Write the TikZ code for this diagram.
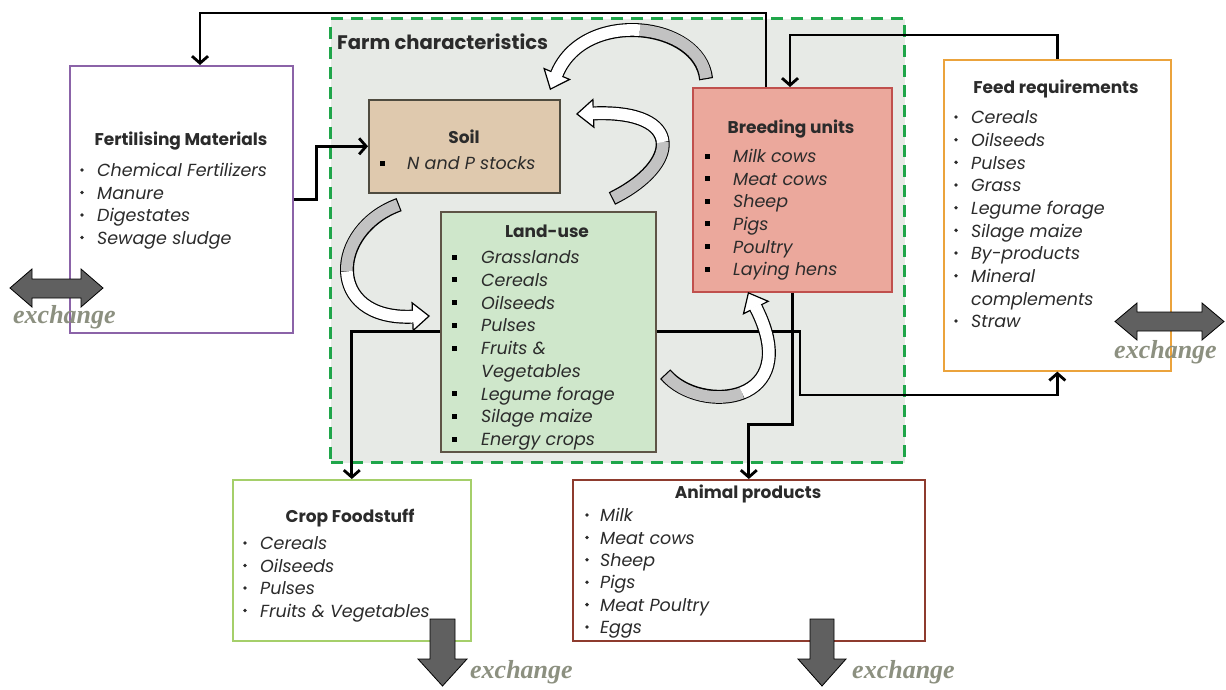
\documentclass[tikz,border=0pt]{standalone}
\usepackage{fontspec}
\setmainfont{Poppins}
\newfontfamily\exfont{Liberation Serif}
\usetikzlibrary{arrows.meta}

\definecolor{ink}{HTML}{2B2B2B}
\definecolor{farmbg}{HTML}{E7EAE6}
\definecolor{dashgreen}{HTML}{1FA64A}
\definecolor{soilfill}{HTML}{DFC9AE}
\definecolor{soilline}{HTML}{4F4B3F}
\definecolor{landfill}{HTML}{CFE7CB}
\definecolor{landline}{HTML}{5E5446}
\definecolor{breedfill}{HTML}{EBA89C}
\definecolor{breedline}{HTML}{C0504D}
\definecolor{fertline}{HTML}{8B63A8}
\definecolor{feedline}{HTML}{EBA33C}
\definecolor{cropline}{HTML}{A5CF6A}
\definecolor{animalline}{HTML}{8E3B2E}
\definecolor{exgrey}{HTML}{606060}
\definecolor{exword}{HTML}{8C9080}
\definecolor{bandgrey}{HTML}{C2C2C2}

% curved block arrow:
% #1 body centre line (outline), #2 its first half (grey tail), #3 second half (white),
% #4 head base, #5 head point, #6/#7 ends of the short stroke hiding the head's base edge
\newcommand\twistarrow[7]{%
  \draw[line width=14pt] #1;
  \draw[line width=11.6pt, bandgrey] #2;
  \draw[line width=11.6pt, white] #3;
  \draw[line width=1.2pt, -{Triangle[length=18pt,width=30pt,fill=white]}] #4 -- #5;
  \draw[line width=11.6pt, white] #6 -- #7;
}

\begin{document}
\begin{tikzpicture}[x=1pt,y=-1pt,
  conn/.style={line width=2.8pt, -{Straight Barb[length=7pt,width=16pt]}, line join=miter},
  panel/.style={draw, line width=1.6pt, inner sep=0pt, anchor=north west},
  ttl/.style={font=\bfseries\fontsize{17}{20}\selectfont, text=ink, anchor=mid, inner sep=0pt, yshift=-4pt},
  itm/.style={font=\itshape\fontsize{17.5}{20}\selectfont, text=ink, anchor=mid west, inner sep=0pt, yshift=-4pt},
  rb/.style={circle, fill=ink, inner sep=0pt, minimum size=3.8pt},
  sb/.style={rectangle, fill=black, inner sep=0pt, minimum size=5pt},
  exw/.style={font=\exfont\bfseries\itshape\fontsize{26}{28}\selectfont, text=exword, anchor=mid west, inner sep=0pt, yshift=-4pt},
  exarr/.style={fill=exgrey, draw=black, line width=0.8pt, line join=miter}
]
\useasboundingbox[fill=white] (0,0) rectangle (1226,689);

% farm frame
\node[panel, draw=dashgreen, fill=farmbg, line width=3pt, dash pattern=on 12pt off 8pt,
      minimum width=574pt, minimum height=444pt] (farm) at (329,17) {};
\node[font=\bfseries\fontsize{19.6}{22}\selectfont, text=ink, anchor=mid west, inner sep=0pt, yshift=-5pt]
      (farmT) at (337,42) {Farm characteristics};

% panels
\node[panel, draw=fertline, minimum width=223pt, minimum height=267pt] (fert) at (69,65) {};
\node[panel, draw=soilline, fill=soilfill, minimum width=191pt, minimum height=93pt] (soil) at (368,99) {};
\node[panel, draw=landline, fill=landfill, minimum width=215pt, minimum height=240pt] (land) at (440,211) {};
\node[panel, draw=breedline, fill=breedfill, minimum width=199pt, minimum height=204pt] (breed) at (692,87) {};
\node[panel, draw=feedline, minimum width=227pt, minimum height=311pt] (feed) at (943,59) {};
\node[panel, draw=cropline, minimum width=238pt, minimum height=161pt] (crop) at (232,479) {};
\node[panel, draw=animalline, minimum width=352pt, minimum height=161pt] (animal) at (572,479) {};

% titles
\node[ttl] (fertT) at (181,139) {Fertilising Materials};
\node[ttl] (soilT) at (464,137) {Soil};
\node[ttl] (landT) at (547,231) {Land-use};
\node[ttl] (breedT) at (791,127) {Breeding units};
\node[ttl] (feedT) at (1056,87) {Feed requirements};
\node[ttl] (cropT) at (350,516) {Crop Foodstuff};
\node[ttl] (animalT) at (748,492) {Animal products};

% lists
\foreach \t [count=\i] in {Chemical Fertilizers, Manure, Digestates, Sewage sludge} {
  \node[itm] (fertI\i) at (97,{170+22.5*(\i-1)}) {\t};
  \node[rb] (fertB\i) at (82,{170+22.5*(\i-1)}) {};
}
\node[itm] (soilI1) at (407,163) {N and P stocks};
\node[sb] (soilB1) at (382,163) {};
\foreach \t [count=\i] in {Grasslands, Cereals, Oilseeds, Pulses, Fruits \&, Vegetables, Legume forage, Silage maize, Energy crops} {
  \node[itm] (landI\i) at (481,{257+22.75*(\i-1)}) {\t};
}
\foreach \i in {1,2,3,4,5,7,8,9} {
  \node[sb] (landB\i) at (454,{257+22.75*(\i-1)}) {};
}
\foreach \t [count=\i] in {Milk cows, Meat cows, Sheep, Pigs, Poultry, Laying hens} {
  \node[itm] (breedI\i) at (733,{156+22.6*(\i-1)}) {\t};
  \node[sb] (breedB\i) at (707,{156+22.6*(\i-1)}) {};
}
\foreach \t [count=\i] in {Cereals, Oilseeds, Pulses, Grass, Legume forage, Silage maize, By-products, Mineral, complements, Straw} {
  \node[itm] (feedI\i) at (971,{117+22.67*(\i-1)}) {\t};
}
\foreach \i in {1,...,8,10} {
  \node[rb] (feedB\i) at (956,{117+22.67*(\i-1)}) {};
}
\foreach \t [count=\i] in {Cereals, Oilseeds, Pulses, Fruits \& Vegetables} {
  \node[itm] (cropI\i) at (260,{543+22.5*(\i-1)}) {\t};
  \node[rb] (cropB\i) at (245,{543+22.5*(\i-1)}) {};
}
\foreach \t [count=\i] in {Milk, Meat cows, Sheep, Pigs, Meat Poultry, Eggs} {
  \node[itm] (animalI\i) at (600,{515+22.4*(\i-1)}) {\t};
  \node[rb] (animalB\i) at (587,{515+22.4*(\i-1)}) {};
}

% flows between panels
\coordinate (k1) at (200,13);
\coordinate (k4) at (800,395);
\draw[conn] ([xshift=74pt]breed.north west) |- (k1) -- (k1 |- fert.north);
\draw[conn] (fert.east) -- ++(23,0) |- (soil.west);
\draw[conn] (feed.north) -- ++(0,-24) -| ([xshift=98pt]breed.north west);
\draw[conn] (land.east) -| (k4) -| (feed.south);
\draw[conn] (land.west) -| (crop.north);
\draw[conn] (breed.south) -- ++(0,132) -| (animal.north);

% nutrient cycling inside the farm
\twistarrow{(706.13,79.19) .. controls (700,22) and (585,8) .. (557.07,73.45)}
           {(706,78) .. controls (703,50) and (672.75,32.5) .. (639.76,30.18)}
           {(639.76,30.18) .. controls (606.77,27.86) and (571.04,40.73) .. (557.07,73.45)}
           {(557.07,73.45)}{(550,90)}{(557.46,72.53)}{(556.29,75.29)}
\twistarrow{(611.9,198.5) .. controls (680,165) and (685,110) .. (593.99,113.34)}
           {(613,198) .. controls (646.5,181.5) and (664.5,159.5) .. (662.75,142.04)}
           {(662.75,142.04) .. controls (661,124.58) and (639.5,111.67) .. (593.99,113.34)}
           {(593.99,113.34)}{(576,114)}{(594.99,113.30)}{(591.99,113.41)}
\twistarrow{(399.1,204.6) .. controls (330,230) and (325,320) .. (412.01,316.69)}
           {(398,205) .. controls (364,217.5) and (345.75,246.25) .. (346.88,271.46)}
           {(346.88,271.46) .. controls (348,296.68) and (368.5,318.35) .. (412.01,316.69)}
           {(412.01,316.69)}{(430,316)}{(411.01,316.73)}{(414.01,316.61)}
\twistarrow{(665.2,374.1) .. controls (700,415) and (805,405) .. (756.11,308.07)}
           {(666,375) .. controls (683,395) and (717.75,402.5) .. (742.14,392.88)}
           {(742.14,392.88) .. controls (766.53,383.27) and (780.56,356.54) .. (756.11,308.07)}
           {(756.11,308.07)}{(748,292)}{(756.56,308.96)}{(755.21,306.28)}

% exchange arrows
\draw[exarr] (10,288) -- (32,269) -- (32,279) -- (81,279) -- (81,269) -- (103,288)
  -- (81,307) -- (81,298) -- (32,298) -- (32,307) -- cycle;
\draw[exarr] (1115,321.5) -- (1137,303) -- (1137,312) -- (1202,312) -- (1202,303) -- (1224,321.5)
  -- (1202,340) -- (1202,331) -- (1137,331) -- (1137,340) -- cycle;
\draw[exarr] (430,619) -- (455,619) -- (455,659) -- (467,659) -- (442.5,686) -- (418,659) -- (430,659) -- cycle;
\draw[exarr] (810,619) -- (834,619) -- (834,659) -- (846,659) -- (822,686) -- (798,659) -- (810,659) -- cycle;
\node[exw] (exLT) at (13,317) {exchange};
\node[exw] (exRT) at (1114,352) {exchange};
\node[exw] (exCT) at (470,672) {exchange};
\node[exw] (exAT) at (852,672) {exchange};
\end{tikzpicture}
\end{document}
